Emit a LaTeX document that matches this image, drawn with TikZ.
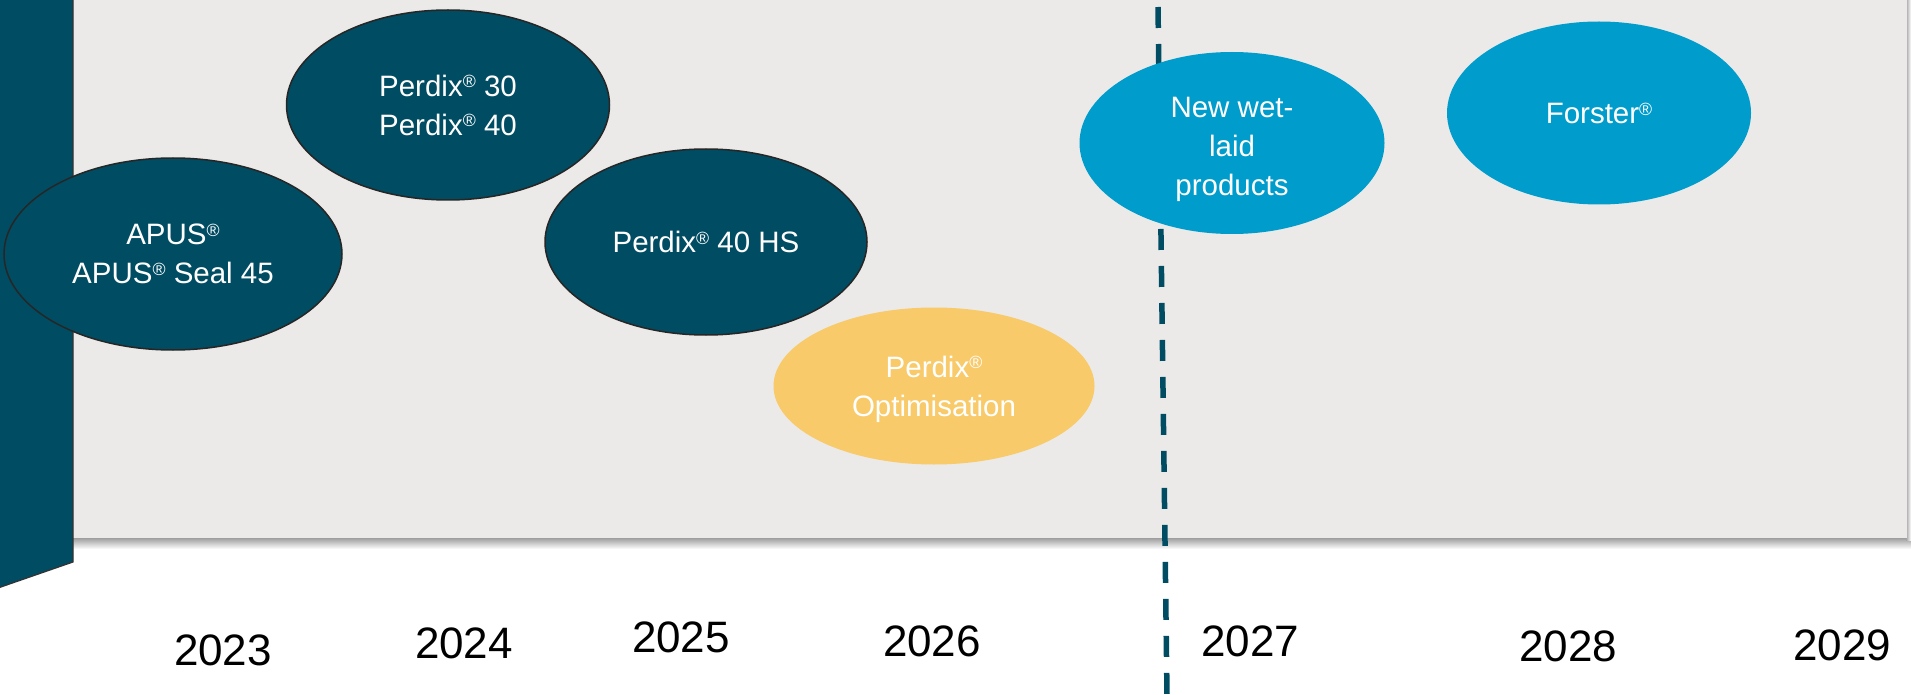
\documentclass[tikz,border=0pt]{standalone}
\usepackage{fontspec}
\setmainfont{Liberation Sans}
\usepackage{graphicx}
\usetikzlibrary{shapes.geometric}
\definecolor{darkteal}{RGB}{0,76,99}
\definecolor{lightblue}{RGB}{0,156,203}
\definecolor{sunyellow}{RGB}{248,202,106}
\definecolor{bggray}{RGB}{236,234,232}
\newcommand{\rmk}{\raisebox{0.28em}{\scalebox{0.6}{®}}}
\begin{document}
\begin{tikzpicture}[x=1pt,y=-1pt,
  blob/.style={ellipse, inner sep=0pt, text=white, align=center, text depth=0pt,
    font=\fontsize{29.5}{39}\selectfont},
  darkblob/.style={blob, fill=darkteal, draw=black!85, line width=1.5pt},
  blueblob/.style={blob, fill=lightblue},
  yellowblob/.style={blob, fill=sunyellow},
  year/.style={font=\fontsize{44}{52}\selectfont, text=black, inner sep=0pt},
  dashline/.style={darkteal, line width=5.5pt, dash pattern=on 21pt off 16pt}
]
\useasboundingbox (0,0) rectangle (1911,695);
\fill[white] (0,0) rectangle (1911,695);
% panel with shadow
\shade[top color=black!45, bottom color=white] (73,536) rectangle (1911,549);
\shade[left color=black!35, right color=white] (1906,0) rectangle (1911,540);
\fill[bggray] (73,-1) rectangle (1907,538);
% left bar
\filldraw[fill=darkteal, draw=black!80, line width=1.2pt] (-2,-2) -- (73,-2) -- (73,562) -- (-2,588) -- cycle;
% dashed divider
\coordinate (dtop) at (1158,7);
\coordinate (dbot) at (1167,695);
\draw[dashline] (dtop) -- (dbot);
% ellipses
\node[darkblob, minimum width=338pt, minimum height=192pt] (apus) at (173,254) {APUS\rmk\\APUS\rmk{} Seal 45};
\node[darkblob, minimum width=323pt, minimum height=190pt] (p3040) at (448,105) {Perdix\rmk{} 30\\Perdix\rmk{} 40};
\node[darkblob, minimum width=322pt, minimum height=186pt] (p40hs) at (706,242) {Perdix\rmk{} 40 HS};
\node[yellowblob, minimum width=321pt, minimum height=157pt] (popt) at (934,386) {Perdix\rmk\\Optimisation};
\node[blueblob, minimum width=305pt, minimum height=182pt] (wet) at (1232,143) {};
\node[blob, anchor=center] (wettext) at (1232,146) {New wet-\\laid\\products};
\node[blueblob, minimum width=304pt, minimum height=183pt] (forster) at (1599,113) {Forster\rmk};
% years
\node[year] (y2023) at (223,650) {2023};
\node[year] (y2024) at (464,643) {2024};
\node[year] (y2025) at (681,637) {2025};
\node[year] (y2026) at (932,641) {2026};
\node[year] (y2027) at (1250,641) {2027};
\node[year] (y2028) at (1568,646) {2028};
\node[year] (y2029) at (1842,645) {2029};
\end{tikzpicture}
\end{document}
